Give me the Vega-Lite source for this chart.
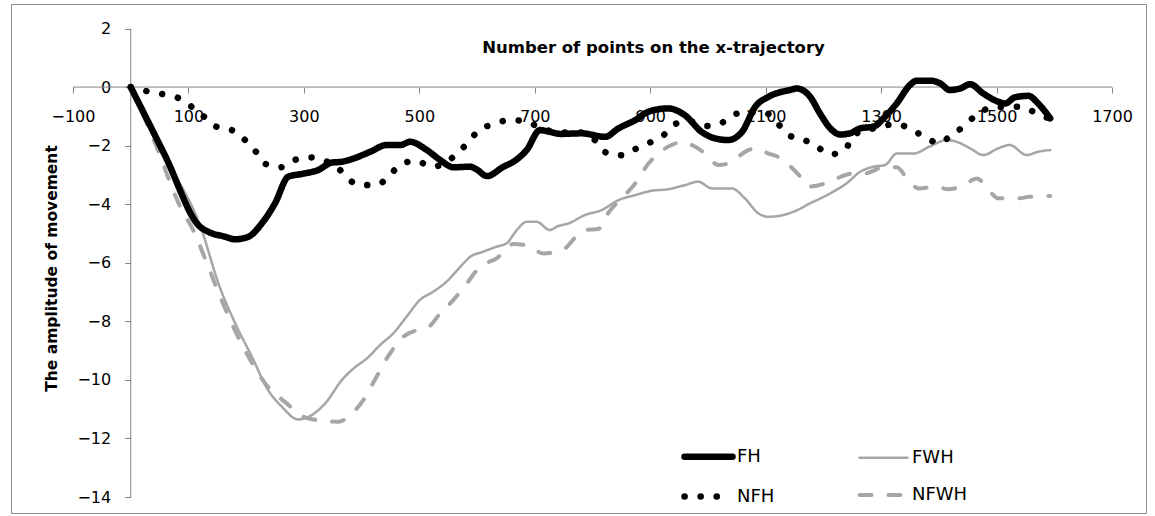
{
  "$schema": "https://vega.github.io/schema/vega-lite/v6.json",
  "width": 1135,
  "height": 509,
  "autosize": {"type": "none"},
  "padding": {"left": 11, "top": 4, "right": 9, "bottom": 3},
  "background": "white",
  "config": {"view": {"stroke": "#8c8c8c", "strokeWidth": 1}, "font": "DejaVu Sans"},
  "datasets": {
    "curves": [
      {"series": "NFWH", "x": 0, "y": 0}, {"series": "NFWH", "x": 42, "y": -1.9}, {"series": "NFWH", "x": 83, "y": -3.97}, {"series": "NFWH", "x": 111, "y": -5.0}, {"series": "NFWH", "x": 132, "y": -6.02}, {"series": "NFWH", "x": 155, "y": -7.16}, {"series": "NFWH", "x": 175, "y": -8.07}, {"series": "NFWH", "x": 204, "y": -9.21}, {"series": "NFWH", "x": 233, "y": -10.12}, {"series": "NFWH", "x": 267, "y": -10.75}, {"series": "NFWH", "x": 308, "y": -11.32}, {"series": "NFWH", "x": 360, "y": -11.43}, {"series": "NFWH", "x": 380, "y": -11.2}, {"series": "NFWH", "x": 403, "y": -10.69}, {"series": "NFWH", "x": 426, "y": -9.89}, {"series": "NFWH", "x": 449, "y": -9.1}, {"series": "NFWH", "x": 472, "y": -8.53}, {"series": "NFWH", "x": 496, "y": -8.3}, {"series": "NFWH", "x": 516, "y": -8.19}, {"series": "NFWH", "x": 536, "y": -7.73}, {"series": "NFWH", "x": 559, "y": -7.27}, {"series": "NFWH", "x": 582, "y": -6.71}, {"series": "NFWH", "x": 605, "y": -6.14}, {"series": "NFWH", "x": 634, "y": -5.85}, {"series": "NFWH", "x": 663, "y": -5.36}, {"series": "NFWH", "x": 686, "y": -5.4}, {"series": "NFWH", "x": 715, "y": -5.68}, {"series": "NFWH", "x": 745, "y": -5.6}, {"series": "NFWH", "x": 787, "y": -4.88}, {"series": "NFWH", "x": 810, "y": -4.85}, {"series": "NFWH", "x": 827, "y": -4.31}, {"series": "NFWH", "x": 856, "y": -3.69}, {"series": "NFWH", "x": 874, "y": -3.29}, {"series": "NFWH", "x": 897, "y": -2.61}, {"series": "NFWH", "x": 914, "y": -2.27}, {"series": "NFWH", "x": 937, "y": -1.98}, {"series": "NFWH", "x": 955, "y": -1.87}, {"series": "NFWH", "x": 978, "y": -2.04}, {"series": "NFWH", "x": 995, "y": -2.27}, {"series": "NFWH", "x": 1018, "y": -2.66}, {"series": "NFWH", "x": 1035, "y": -2.61}, {"series": "NFWH", "x": 1070, "y": -2.15}, {"series": "NFWH", "x": 1082, "y": -2.09}, {"series": "NFWH", "x": 1105, "y": -2.27}, {"series": "NFWH", "x": 1119, "y": -2.36}, {"series": "NFWH", "x": 1137, "y": -2.61}, {"series": "NFWH", "x": 1160, "y": -3.06}, {"series": "NFWH", "x": 1174, "y": -3.4}, {"series": "NFWH", "x": 1203, "y": -3.29}, {"series": "NFWH", "x": 1223, "y": -3.12}, {"series": "NFWH", "x": 1252, "y": -2.95}, {"series": "NFWH", "x": 1272, "y": -2.95}, {"series": "NFWH", "x": 1304, "y": -2.74}, {"series": "NFWH", "x": 1327, "y": -2.74}, {"series": "NFWH", "x": 1347, "y": -3.18}, {"series": "NFWH", "x": 1365, "y": -3.46}, {"series": "NFWH", "x": 1396, "y": -3.4}, {"series": "NFWH", "x": 1416, "y": -3.49}, {"series": "NFWH", "x": 1443, "y": -3.35}, {"series": "NFWH", "x": 1466, "y": -3.12}, {"series": "NFWH", "x": 1489, "y": -3.58}, {"series": "NFWH", "x": 1503, "y": -3.8}, {"series": "NFWH", "x": 1538, "y": -3.8}, {"series": "NFWH", "x": 1555, "y": -3.75}, {"series": "NFWH", "x": 1593, "y": -3.72},

      {"series": "FWH", "x": 0, "y": 0}, {"series": "FWH", "x": 60, "y": -2.4}, {"series": "FWH", "x": 123, "y": -4.88}, {"series": "FWH", "x": 152, "y": -6.71}, {"series": "FWH", "x": 181, "y": -8.07}, {"series": "FWH", "x": 210, "y": -9.21}, {"series": "FWH", "x": 238, "y": -10.35}, {"series": "FWH", "x": 262, "y": -10.92}, {"series": "FWH", "x": 290, "y": -11.35}, {"series": "FWH", "x": 308, "y": -11.26}, {"series": "FWH", "x": 337, "y": -10.8}, {"series": "FWH", "x": 366, "y": -10.0}, {"series": "FWH", "x": 386, "y": -9.61}, {"series": "FWH", "x": 409, "y": -9.27}, {"series": "FWH", "x": 432, "y": -8.81}, {"series": "FWH", "x": 455, "y": -8.41}, {"series": "FWH", "x": 478, "y": -7.84}, {"series": "FWH", "x": 501, "y": -7.27}, {"series": "FWH", "x": 524, "y": -6.99}, {"series": "FWH", "x": 547, "y": -6.65}, {"series": "FWH", "x": 571, "y": -6.14}, {"series": "FWH", "x": 588, "y": -5.8}, {"series": "FWH", "x": 611, "y": -5.62}, {"series": "FWH", "x": 634, "y": -5.45}, {"series": "FWH", "x": 651, "y": -5.34}, {"series": "FWH", "x": 669, "y": -4.88}, {"series": "FWH", "x": 686, "y": -4.6}, {"series": "FWH", "x": 703, "y": -4.6}, {"series": "FWH", "x": 726, "y": -4.88}, {"series": "FWH", "x": 740, "y": -4.75}, {"series": "FWH", "x": 758, "y": -4.66}, {"series": "FWH", "x": 787, "y": -4.37}, {"series": "FWH", "x": 816, "y": -4.2}, {"series": "FWH", "x": 845, "y": -3.86}, {"series": "FWH", "x": 874, "y": -3.69}, {"series": "FWH", "x": 903, "y": -3.54}, {"series": "FWH", "x": 931, "y": -3.49}, {"series": "FWH", "x": 960, "y": -3.35}, {"series": "FWH", "x": 983, "y": -3.23}, {"series": "FWH", "x": 1007, "y": -3.46}, {"series": "FWH", "x": 1041, "y": -3.46}, {"series": "FWH", "x": 1064, "y": -3.8}, {"series": "FWH", "x": 1087, "y": -4.31}, {"series": "FWH", "x": 1105, "y": -4.43}, {"series": "FWH", "x": 1148, "y": -4.26}, {"series": "FWH", "x": 1177, "y": -3.97}, {"series": "FWH", "x": 1212, "y": -3.63}, {"series": "FWH", "x": 1240, "y": -3.29}, {"series": "FWH", "x": 1264, "y": -2.89}, {"series": "FWH", "x": 1287, "y": -2.72}, {"series": "FWH", "x": 1307, "y": -2.66}, {"series": "FWH", "x": 1327, "y": -2.27}, {"series": "FWH", "x": 1356, "y": -2.27}, {"series": "FWH", "x": 1385, "y": -2.02}, {"series": "FWH", "x": 1414, "y": -1.81}, {"series": "FWH", "x": 1431, "y": -1.87}, {"series": "FWH", "x": 1454, "y": -2.09}, {"series": "FWH", "x": 1477, "y": -2.32}, {"series": "FWH", "x": 1503, "y": -2.09}, {"series": "FWH", "x": 1523, "y": -1.98}, {"series": "FWH", "x": 1552, "y": -2.32}, {"series": "FWH", "x": 1572, "y": -2.21}, {"series": "FWH", "x": 1593, "y": -2.15},

      {"series": "NFH", "x": 0, "y": 0}, {"series": "NFH", "x": 28, "y": -0.14}, {"series": "NFH", "x": 55, "y": -0.24}, {"series": "NFH", "x": 81, "y": -0.36}, {"series": "NFH", "x": 104, "y": -0.65}, {"series": "NFH", "x": 127, "y": -1.01}, {"series": "NFH", "x": 148, "y": -1.35}, {"series": "NFH", "x": 175, "y": -1.47}, {"series": "NFH", "x": 197, "y": -1.79}, {"series": "NFH", "x": 217, "y": -2.21}, {"series": "NFH", "x": 234, "y": -2.63}, {"series": "NFH", "x": 259, "y": -2.74}, {"series": "NFH", "x": 284, "y": -2.49}, {"series": "NFH", "x": 310, "y": -2.4}, {"series": "NFH", "x": 337, "y": -2.52}, {"series": "NFH", "x": 360, "y": -2.78}, {"series": "NFH", "x": 379, "y": -3.18}, {"series": "NFH", "x": 403, "y": -3.35}, {"series": "NFH", "x": 429, "y": -3.32}, {"series": "NFH", "x": 450, "y": -2.97}, {"series": "NFH", "x": 471, "y": -2.61}, {"series": "NFH", "x": 495, "y": -2.52}, {"series": "NFH", "x": 520, "y": -2.72}, {"series": "NFH", "x": 545, "y": -2.6}, {"series": "NFH", "x": 566, "y": -2.24}, {"series": "NFH", "x": 586, "y": -1.87}, {"series": "NFH", "x": 603, "y": -1.47}, {"series": "NFH", "x": 629, "y": -1.27}, {"series": "NFH", "x": 655, "y": -1.13}, {"series": "NFH", "x": 680, "y": -1.15}, {"series": "NFH", "x": 706, "y": -1.35}, {"series": "NFH", "x": 740, "y": -1.55}, {"series": "NFH", "x": 781, "y": -1.55}, {"series": "NFH", "x": 804, "y": -1.81}, {"series": "NFH", "x": 824, "y": -2.24}, {"series": "NFH", "x": 851, "y": -2.33}, {"series": "NFH", "x": 875, "y": -2.11}, {"series": "NFH", "x": 901, "y": -1.88}, {"series": "NFH", "x": 925, "y": -1.61}, {"series": "NFH", "x": 946, "y": -1.24}, {"series": "NFH", "x": 972, "y": -1.18}, {"series": "NFH", "x": 998, "y": -1.33}, {"series": "NFH", "x": 1024, "y": -1.22}, {"series": "NFH", "x": 1047, "y": -0.92}, {"series": "NFH", "x": 1075, "y": -0.86}, {"series": "NFH", "x": 1102, "y": -0.9}, {"series": "NFH", "x": 1120, "y": -1.22}, {"series": "NFH", "x": 1139, "y": -1.64}, {"series": "NFH", "x": 1164, "y": -1.78}, {"series": "NFH", "x": 1189, "y": -2.04}, {"series": "NFH", "x": 1212, "y": -2.3}, {"series": "NFH", "x": 1238, "y": -2.13}, {"series": "NFH", "x": 1252, "y": -1.64}, {"series": "NFH", "x": 1290, "y": -1.4}, {"series": "NFH", "x": 1327, "y": -1.26}, {"series": "NFH", "x": 1352, "y": -1.45}, {"series": "NFH", "x": 1376, "y": -1.7}, {"series": "NFH", "x": 1400, "y": -1.92}, {"series": "NFH", "x": 1422, "y": -1.64}, {"series": "NFH", "x": 1444, "y": -1.33}, {"series": "NFH", "x": 1466, "y": -0.93}, {"series": "NFH", "x": 1500, "y": -0.68}, {"series": "NFH", "x": 1541, "y": -0.67}, {"series": "NFH", "x": 1564, "y": -0.84}, {"series": "NFH", "x": 1590, "y": -1.07},

      {"series": "FH", "x": 0, "y": 0}, {"series": "FH", "x": 59, "y": -2.32}, {"series": "FH", "x": 120, "y": -4.77}, {"series": "FH", "x": 134, "y": -4.94}, {"series": "FH", "x": 163, "y": -5.11}, {"series": "FH", "x": 181, "y": -5.2}, {"series": "FH", "x": 204, "y": -5.11}, {"series": "FH", "x": 227, "y": -4.66}, {"series": "FH", "x": 250, "y": -3.97}, {"series": "FH", "x": 273, "y": -3.06}, {"series": "FH", "x": 296, "y": -2.97}, {"series": "FH", "x": 325, "y": -2.83}, {"series": "FH", "x": 348, "y": -2.58}, {"series": "FH", "x": 366, "y": -2.55}, {"series": "FH", "x": 386, "y": -2.44}, {"series": "FH", "x": 415, "y": -2.21}, {"series": "FH", "x": 443, "y": -1.98}, {"series": "FH", "x": 467, "y": -1.98}, {"series": "FH", "x": 484, "y": -1.87}, {"series": "FH", "x": 513, "y": -2.15}, {"series": "FH", "x": 536, "y": -2.49}, {"series": "FH", "x": 559, "y": -2.74}, {"series": "FH", "x": 588, "y": -2.72}, {"series": "FH", "x": 599, "y": -2.81}, {"series": "FH", "x": 617, "y": -3.04}, {"series": "FH", "x": 646, "y": -2.72}, {"series": "FH", "x": 663, "y": -2.55}, {"series": "FH", "x": 686, "y": -2.15}, {"series": "FH", "x": 709, "y": -1.47}, {"series": "FH", "x": 726, "y": -1.53}, {"series": "FH", "x": 744, "y": -1.6}, {"series": "FH", "x": 781, "y": -1.58}, {"series": "FH", "x": 822, "y": -1.7}, {"series": "FH", "x": 845, "y": -1.41}, {"series": "FH", "x": 874, "y": -1.13}, {"series": "FH", "x": 897, "y": -0.84}, {"series": "FH", "x": 931, "y": -0.73}, {"series": "FH", "x": 960, "y": -0.96}, {"series": "FH", "x": 989, "y": -1.53}, {"series": "FH", "x": 1012, "y": -1.75}, {"series": "FH", "x": 1035, "y": -1.81}, {"series": "FH", "x": 1059, "y": -1.53}, {"series": "FH", "x": 1082, "y": -0.67}, {"series": "FH", "x": 1105, "y": -0.33}, {"series": "FH", "x": 1142, "y": -0.1}, {"series": "FH", "x": 1154, "y": -0.05}, {"series": "FH", "x": 1177, "y": -0.33}, {"series": "FH", "x": 1194, "y": -0.9}, {"series": "FH", "x": 1212, "y": -1.41}, {"series": "FH", "x": 1229, "y": -1.62}, {"series": "FH", "x": 1246, "y": -1.58}, {"series": "FH", "x": 1264, "y": -1.41}, {"series": "FH", "x": 1287, "y": -1.35}, {"series": "FH", "x": 1304, "y": -1.07}, {"series": "FH", "x": 1327, "y": -0.56}, {"series": "FH", "x": 1350, "y": 0.07}, {"series": "FH", "x": 1362, "y": 0.22}, {"series": "FH", "x": 1385, "y": 0.22}, {"series": "FH", "x": 1402, "y": 0.13}, {"series": "FH", "x": 1419, "y": -0.1}, {"series": "FH", "x": 1437, "y": -0.05}, {"series": "FH", "x": 1454, "y": 0.1}, {"series": "FH", "x": 1477, "y": -0.22}, {"series": "FH", "x": 1503, "y": -0.5}, {"series": "FH", "x": 1515, "y": -0.56}, {"series": "FH", "x": 1532, "y": -0.35}, {"series": "FH", "x": 1555, "y": -0.3}, {"series": "FH", "x": 1572, "y": -0.56}, {"series": "FH", "x": 1593, "y": -1.07}
    ]
  },
  "layer": [
    {
      "data": {"values": [{}]},
      "mark": {"type": "rule", "color": "#868686", "strokeWidth": 1},
      "encoding": {
        "x": {"datum": -100, "type": "quantitative", "title": "Number of points on the x-trajectory",
          "scale": {"domain": [-207.41, 1758.9], "nice": false, "zero": false},
          "axis": {
            "orient": "bottom", "offset": -426, "values": [-100, 100, 300, 500, 700, 900, 1100, 1300, 1500, 1700], "format": "d",
            "domain": false, "grid": false, "tickColor": "#868686", "tickSize": 6,
            "labelFont": "DejaVu Sans", "labelFontSize": 16, "labelColor": "#000000", "labelPadding": 15,
            "labelFlush": false, "labelOverlap": false, "labelBound": false,
            "titleFont": "DejaVu Sans", "titleFontSize": 16.5, "titleFontWeight": "bold", "titleColor": "#000000",
            "titleX": 642, "titleY": -40, "titleBaseline": "middle", "titleAlign": "center", "titleAngle": 0
          }},
        "x2": {"datum": 1700},
        "y": {"datum": 0, "type": "quantitative", "title": "The amplitude of movement",
          "scale": {"domain": [-14.546, 2.837], "nice": false, "zero": false},
          "axis": {
            "orient": "left", "offset": -119.7, "values": [-14, -12, -10, -8, -6, -4, -2, 0, 2], "format": "d",
            "domain": false, "grid": false, "tickColor": "#868686", "tickSize": 6,
            "labelFont": "DejaVu Sans", "labelFontSize": 16, "labelColor": "#000000", "labelPadding": 14,
            "labelFlush": false, "labelOverlap": false, "labelBound": false,
            "titleFont": "DejaVu Sans", "titleFontSize": 15.5, "titleFontWeight": "bold", "titleColor": "#000000",
            "titleAngle": -90, "titleX": -79, "titleY": 264, "titleBaseline": "middle", "titleAlign": "center"
          }}
      }
    },
    {
      "data": {"values": [{}]},
      "mark": {"type": "rule", "color": "#868686", "strokeWidth": 1},
      "encoding": {
        "x": {"datum": 0, "type": "quantitative", "title": "Number of points on the x-trajectory"},
        "y": {"datum": -14, "type": "quantitative", "title": "The amplitude of movement"},
        "y2": {"datum": 2}
      }
    },
    {
      "data": {"name": "curves"},
      "mark": {"type": "line", "strokeCap": "round", "strokeJoin": "round", "interpolate": "monotone"},
      "encoding": {
        "x": {"field": "x", "type": "quantitative", "title": "Number of points on the x-trajectory"},
        "y": {"field": "y", "type": "quantitative", "title": "The amplitude of movement"},
        "color": {
          "field": "series", "type": "nominal",
          "scale": {"domain": ["FH", "FWH", "NFH", "NFWH"], "range": ["#000000", "#a6a6a6", "#000000", "#a6a6a6"]},
          "legend": {
            "orient": "none", "legendX": 679, "legendY": 434, "columns": 2, "direction": "horizontal", "title": null,
            "symbolType": "M-1.6,0H1.6", "symbolSize": 900, "labelFont": "DejaVu Sans", "labelFontSize": 18, "labelColor": "#000000",
            "labelOffset": 10, "columnPadding": 76, "rowPadding": 8,
            "encoding": {"symbols": {"strokeCap": {"value": "round"}}}
          }
        },
        "strokeWidth": {
          "field": "series", "type": "nominal",
          "scale": {"type": "ordinal", "domain": ["FH", "FWH", "NFH", "NFWH"], "range": [6.5, 2.5, 6.5, 4]}
        },
        "strokeDash": {
          "field": "series", "type": "nominal",
          "scale": {"domain": ["FH", "FWH", "NFH", "NFWH"], "range": [[1, 0], [1, 0], [0.1, 16], [12, 17]]}
        }
      }
    }
  ]
}
